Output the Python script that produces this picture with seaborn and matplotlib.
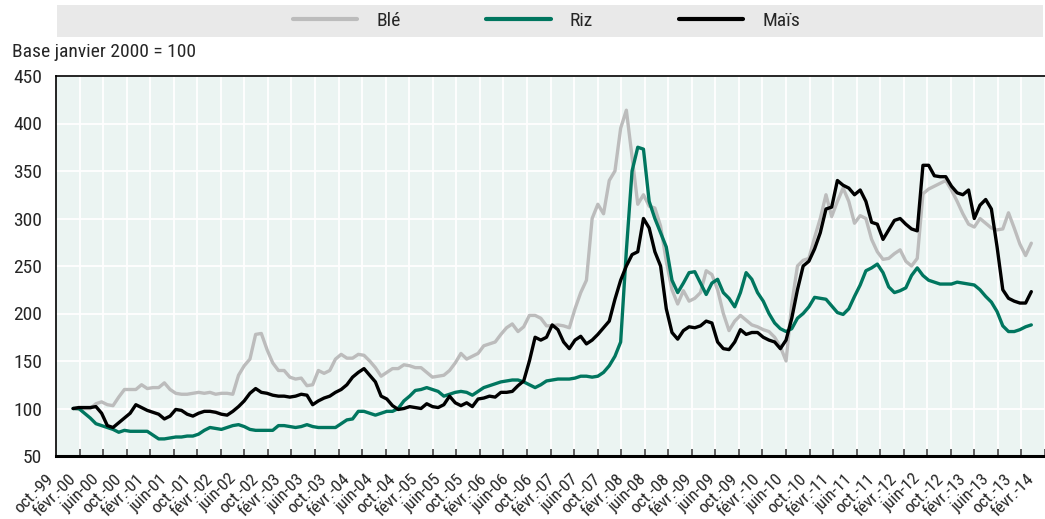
import numpy as np
import pandas as pd
import matplotlib
matplotlib.use("Agg")
import matplotlib.pyplot as plt
import seaborn as sns
from matplotlib.patches import Rectangle
from matplotlib import font_manager as fm

# ---------------- data (monthly, Jan 2000 = month 0) ----------------
series_names = ["Blé", "Riz", "Maïs"]

ble = [100, 99, 100, 100, 105, 107, 104, 103, 112, 120,
       120, 120, 125, 121, 122, 122, 127, 120, 116, 115,
       115, 116, 117, 116, 117, 115, 116, 116, 115, 135,
       145, 152, 178, 179, 162, 148, 140, 140, 133, 131,
       132, 124, 125, 140, 137, 140, 152, 157, 153, 153,
       157, 156, 150, 143, 134, 138, 142, 142, 146, 145,
       143, 143, 138, 133, 134, 135, 140, 148, 158, 152,
       155, 158, 166, 168, 170, 178, 185, 189, 181, 186,
       198, 198, 195, 187, 187, 188, 187, 185, 205, 222,
       235, 300, 315, 305, 340, 350, 395, 414, 365, 315,
       325, 313, 311, 292, 255, 225, 210, 224, 213, 216,
       222, 245, 241, 225, 200, 182, 192, 198, 193, 188,
       186, 183, 181, 175, 165, 150, 210, 250, 256, 258,
       280, 300, 325, 302, 318, 332, 318, 295, 303, 300,
       278, 265, 257, 258, 263, 267, 255, 250, 258, 326,
       331, 334, 337, 340, 330, 318, 305, 294, 291, 300,
       295, 290, 288, 289, 306, 290, 273, 261, 274]

riz = [100, 100, 95, 90, 84, 82, 80, 78, 75, 77,
       76, 76, 76, 76, 72, 68, 68, 69, 70, 70,
       71, 71, 73, 77, 80, 79, 78, 80, 82, 83,
       81, 78, 77, 77, 77, 77, 82, 82, 81, 80,
       81, 83, 81, 80, 80, 80, 80, 84, 88, 89,
       97, 97, 95, 93, 95, 97, 97, 100, 108, 113,
       119, 120, 122, 120, 118, 113, 115, 117, 118, 117,
       114, 118, 122, 124, 126, 128, 129, 130, 130, 128,
       125, 122, 125, 129, 130, 131, 131, 131, 132, 134,
       134, 133, 134, 138, 145, 155, 170, 266, 350, 375,
       373, 318, 300, 285, 270, 235, 222, 232, 243, 244,
       232, 220, 232, 236, 222, 216, 207, 222, 243, 236,
       222, 213, 200, 190, 184, 181, 184, 195, 200, 207,
       217, 216, 215, 208, 201, 199, 205, 218, 230, 245,
       248, 252, 243, 228, 222, 224, 227, 240, 248, 240,
       235, 233, 231, 231, 231, 233, 232, 231, 230, 225,
       218, 212, 202, 187, 181, 181, 183, 186, 188]

mais = [100, 101, 101, 101, 102, 95, 82, 80, 85, 90,
        95, 104, 101, 98, 96, 94, 89, 92, 99, 98,
        94, 92, 95, 97, 97, 96, 94, 93, 97, 102,
        108, 116, 121, 117, 116, 114, 113, 113, 112, 113,
        115, 114, 104, 108, 111, 113, 117, 120, 125, 133,
        138, 142, 135, 128, 113, 110, 103, 99, 100, 102,
        101, 100, 105, 102, 101, 104, 113, 106, 103, 106,
        102, 110, 111, 113, 112, 117, 117, 118, 124, 129,
        150, 175, 172, 175, 188, 183, 170, 163, 172, 176,
        168, 172, 178, 185, 192, 215, 235, 250, 262, 265,
        300, 290, 265, 250, 205, 180, 173, 182, 186, 185,
        187, 192, 190, 170, 163, 162, 170, 183, 178, 180,
        180, 175, 172, 170, 163, 172, 195, 225, 250, 255,
        268, 285, 310, 312, 340, 335, 332, 325, 330, 318,
        296, 294, 278, 288, 298, 300, 294, 289, 287, 356,
        356, 345, 344, 344, 334, 327, 325, 330, 300, 314,
        320, 310, 270, 225, 216, 213, 211, 211, 223]

y_ticks = [50, 100, 150, 200, 250, 300, 350, 400, 450]

x_labels = ["oct.-99", "févr.-00", "juin-00", "oct.-00", "févr.-01", "juin-01",
            "oct.-01", "févr.-02", "juin-02", "oct.-02", "févr.-03", "juin-03",
            "oct.-03", "févr.-04", "juin-04", "oct.-04", "févr.-05", "juin-05",
            "oct.-05", "févr.-06", "juin-06", "oct.-06", "févr.-07", "juin-07",
            "oct.-07", "févr.-08", "juin-08", "oct.-08", "févr.-09", "juin-09",
            "oct.-09", "févr.-10", "juin-10", "oct.-10", "févr.-11", "juin-11",
            "oct.-11", "févr.-12", "juin-12", "oct.-12", "févr.-13", "juin-13",
            "oct.-13", "févr.-14"]

# ---------------- style ----------------
sns.set_theme(style="white")

# pick a narrow sans family if one is installed
installed = {f.name for f in fm.fontManager.ttflist}
narrow = None
for cand in ["Liberation Sans Narrow", "Arial Narrow", "Roboto Condensed",
             "Open Sans Condensed", "DejaVu Sans Condensed", "Noto Sans Condensed"]:
    if cand in installed:
        narrow = cand
        break
condensed_faces = [f for f in fm.fontManager.ttflist
                   if "ondensed" in f.name or "arrow" in f.name
                   or str(f.stretch) in ("condensed", "semi-condensed", "extra-condensed")]
if narrow is None and condensed_faces:
    narrow = condensed_faces[0].name
if narrow is None:
    narrow = "Liberation Sans" if "Liberation Sans" in installed else "DejaVu Sans"
    scale = 0.9
else:
    scale = 1.0
plt.rcParams["font.family"] = [narrow, "DejaVu Sans"]

n = len(ble)
months = np.arange(n)
df = pd.DataFrame({
    "mois": np.tile(months, 3),
    "indice": ble + riz + mais,
    "produit": np.repeat(series_names, n),
})

W, H = 1045, 519
fig = plt.figure(figsize=(W / 100, H / 100), dpi=100)
fig.patch.set_facecolor("white")
ax = fig.add_axes([56 / W, (H - 456) / H, (W - 56) / W, 380 / H])
ax.set_facecolor("#ebf4f2")

palette = {"Blé": "#bcbcbc", "Riz": "#00765f", "Maïs": "#000000"}
sns.lineplot(data=df, x="mois", y="indice", hue="produit", hue_order=series_names,
             palette=palette, linewidth=2.4, ax=ax, legend=True)

# axes limits & ticks
xmin, xmax = -3, 170.2
ax.set_xlim(xmin, xmax)
ax.set_ylim(50, 450)
ax.set_yticks(y_ticks)
ax.set_yticklabels([str(v) for v in y_ticks], fontsize=14 * scale)

label_pos = [-3 + 4 * k for k in range(len(x_labels))]
ax.set_xticks(label_pos)
ax.set_xticklabels(x_labels, rotation=45, ha="right", va="top", fontsize=12.5 * scale)
ax.set_xticks(np.linspace(-3, 170.4, 43)[1:], minor=True)

ax.tick_params(axis="x", which="major", length=0, pad=11)
ax.tick_params(axis="x", which="minor", direction="in", length=5, width=1.1,
               color="#333333", bottom=True)
ax.tick_params(axis="y", which="major", length=0, pad=10)

ax.grid(False)
ax.grid(which="minor", axis="x", color="white", linewidth=1.3)
ax.grid(which="major", axis="y", color="white", linewidth=1.3)

for side in ["left", "top"]:
    ax.spines[side].set_color("black")
    ax.spines[side].set_linewidth(1.2)
ax.spines["bottom"].set_color("black")
ax.spines["bottom"].set_linewidth(2.2)
ax.spines["right"].set_visible(False)

ax.set_xlabel("")
ax.set_ylabel("")

# legend in a grey band at top
handles, labels = ax.get_legend_handles_labels()
ax.get_legend().remove()
fig.add_artist(Rectangle((57 / W, 1 - 37 / H), (1043 - 57) / W, 32 / H,
                         transform=fig.transFigure, facecolor="#e9e9e9",
                         edgecolor="none", zorder=0))
leg = fig.legend(handles, labels, loc="center", bbox_to_anchor=(0.523, 1 - 21 / H),
                 ncol=3, frameon=False, handlelength=3.3, handletextpad=1.0,
                 columnspacing=4.4, fontsize=14 * scale)
for line in leg.get_lines():
    line.set_linewidth(3)

fig.text(12 / W, 1 - 52 / H, "Base janvier 2000 = 100", ha="left", va="center",
         fontsize=14 * scale)

fig.savefig("out.png", dpi=100)
